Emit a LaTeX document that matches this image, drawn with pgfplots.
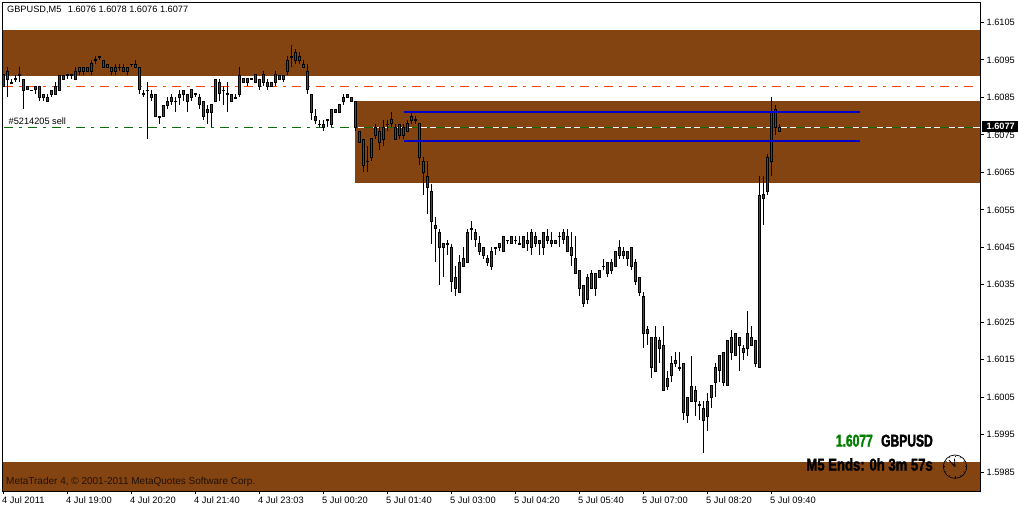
\documentclass[border=0pt]{standalone}
\usepackage{fontspec}
\setmainfont{Liberation Sans}
\newfontfamily\impact[FakeStretch=0.77,FakeBold=1.8]{Liberation Sans Bold}
\newfontfamily\impactn[FakeStretch=0.71,FakeBold=1.8]{Liberation Sans Bold}
\usepackage{pgfplots}
\usepackage{pgfplotstable}
\pgfplotsset{compat=1.18}
\definecolor{band}{HTML}{844412}
\definecolor{upc}{HTML}{0A6E14}
\definecolor{dnc}{HTML}{C41414}
\definecolor{orangeline}{HTML}{FF4500}
\definecolor{gline}{HTML}{0A6E0A}
\definecolor{bline}{HTML}{0000CD}
\pgfplotstableread{
i o h l c
0 1.6088 1.6091 1.6088 1.6091
2 1.6089 1.6090 1.6089 1.6089
3 1.6090 1.6091 1.6089 1.6090
4 1.6091 1.6093 1.6089 1.6091
7 1.6087 1.6087 1.6087 1.6087
8 1.6087 1.6088 1.6086 1.6088
11 1.6084 1.6086 1.6084 1.6085
12 1.6086 1.6087 1.6085 1.6087
13 1.6086 1.6089 1.6086 1.6088
14 1.6087 1.6091 1.6087 1.6091
15 1.6090 1.6091 1.6090 1.6091
16 1.6091 1.6091 1.6090 1.6091
17 1.6091 1.6091 1.6090 1.6091
18 1.6090 1.6093 1.6090 1.6092
21 1.6092 1.6093 1.6092 1.6093
22 1.6092 1.6095 1.6091 1.6094
23 1.6095 1.6096 1.6094 1.6095
24 1.6096 1.6096 1.6095 1.6096
29 1.6093 1.6094 1.6092 1.6093
30 1.6092 1.6094 1.6092 1.6093
31 1.6092 1.6093 1.6091 1.6093
32 1.6094 1.6094 1.6093 1.6094
33 1.6093 1.6095 1.6093 1.6094
35 1.6086 1.6087 1.6085 1.6086
36 1.6087 1.6089 1.6074 1.6087
39 1.6080 1.6080 1.6078 1.6080
40 1.6080 1.6083 1.6080 1.6083
42 1.6084 1.6086 1.6083 1.6085
43 1.6084 1.6085 1.6081 1.6084
44 1.6085 1.6087 1.6083 1.6086
46 1.6084 1.6086 1.6081 1.6086
48 1.6086 1.6086 1.6085 1.6086
53 1.6084 1.6090 1.6084 1.6090
55 1.6087 1.6088 1.6083 1.6087
56 1.6086 1.6089 1.6081 1.6086
57 1.6084 1.6086 1.6084 1.6086
58 1.6085 1.6086 1.6085 1.6085
59 1.6086 1.6093 1.6085 1.6091
62 1.6090 1.6090 1.6090 1.6090
64 1.6088 1.6090 1.6087 1.6090
65 1.6089 1.6092 1.6088 1.6091
68 1.6089 1.6092 1.6088 1.6091
69 1.6090 1.6091 1.6090 1.6091
70 1.6090 1.6091 1.6089 1.6091
71 1.6092 1.6096 1.6091 1.6095
72 1.6096 1.6099 1.6093 1.6096
79 1.6078 1.6079 1.6077 1.6078
80 1.6077 1.6079 1.6076 1.6078
81 1.6079 1.6079 1.6077 1.6079
82 1.6078 1.6082 1.6077 1.6082
83 1.6081 1.6082 1.6081 1.6082
84 1.6081 1.6083 1.6081 1.6083
85 1.6084 1.6086 1.6083 1.6085
87 1.6084 1.6085 1.6084 1.6085
91 1.6068 1.6072 1.6065 1.6068
92 1.6069 1.6074 1.6068 1.6074
93 1.6075 1.6078 1.6074 1.6077
95 1.6074 1.6079 1.6072 1.6077
96 1.6078 1.6079 1.6076 1.6078
99 1.6075 1.6078 1.6074 1.6078
101 1.6076 1.6079 1.6076 1.6078
102 1.6079 1.6081 1.6078 1.6080
103 1.6079 1.6080 1.6078 1.6079
111 1.6046 1.6047 1.6043 1.6046
114 1.6033 1.6043 1.6033 1.6041
116 1.6041 1.6050 1.6041 1.6049
117 1.6050 1.6052 1.6047 1.6050
122 1.6040 1.6045 1.6039 1.6044
123 1.6045 1.6045 1.6043 1.6045
125 1.6044 1.6048 1.6044 1.6048
126 1.6047 1.6047 1.6046 1.6047
127 1.6046 1.6048 1.6046 1.6048
128 1.6047 1.6048 1.6046 1.6047
129 1.6046 1.6048 1.6046 1.6046
130 1.6045 1.6048 1.6045 1.6048
132 1.6045 1.6050 1.6043 1.6049
135 1.6045 1.6049 1.6043 1.6049
137 1.6046 1.6049 1.6045 1.6047
138 1.6046 1.6047 1.6046 1.6047
139 1.6048 1.6049 1.6045 1.6048
140 1.6047 1.6050 1.6046 1.6049
146 1.6031 1.6038 1.6030 1.6037
148 1.6034 1.6038 1.6032 1.6038
149 1.6037 1.6039 1.6037 1.6039
150 1.6040 1.6042 1.6039 1.6040
152 1.6039 1.6042 1.6038 1.6041
153 1.6040 1.6044 1.6040 1.6044
154 1.6043 1.6047 1.6042 1.6045
156 1.6042 1.6044 1.6040 1.6044
163 1.6012 1.6024 1.6012 1.6021
166 1.6008 1.6012 1.6007 1.6010
167 1.6011 1.6016 1.6009 1.6014
169 1.6013 1.6017 1.6012 1.6013
171 1.6000 1.6005 1.5998 1.6005
172 1.6004 1.6016 1.6004 1.6008
174 1.6003 1.6004 1.5999 1.6003
176 1.6000 1.6006 1.5996 1.6004
177 1.6005 1.6008 1.6002 1.6008
178 1.6009 1.6014 1.6005 1.6013
179 1.6012 1.6016 1.6009 1.6016
181 1.6008 1.6020 1.6008 1.6020
183 1.6016 1.6022 1.6016 1.6022
186 1.6018 1.6028 1.6016 1.6022
189 1.6013 1.6064 1.6013 1.6059
190 1.6058 1.6064 1.6051 1.6059
191 1.6060 1.6070 1.6059 1.6069
192 1.6068 1.6085 1.6064 1.6081
194 1.6076 1.6078 1.6076 1.6077
}\upT
\pgfplotstableread{
i o h l c
1 1.6092 1.6093 1.6085 1.6090
5 1.6090 1.6090 1.6082 1.6087
6 1.6088 1.6088 1.6087 1.6087
9 1.6088 1.6088 1.6084 1.6085
10 1.6086 1.6086 1.6084 1.6085
19 1.6093 1.6093 1.6091 1.6092
20 1.6093 1.6093 1.6091 1.6092
25 1.6095 1.6095 1.6093 1.6093
26 1.6094 1.6094 1.6093 1.6093
27 1.6093 1.6093 1.6091 1.6092
28 1.6093 1.6094 1.6091 1.6092
34 1.6093 1.6093 1.6086 1.6087
37 1.6086 1.6087 1.6084 1.6085
38 1.6086 1.6086 1.6080 1.6080
41 1.6084 1.6085 1.6082 1.6083
45 1.6087 1.6087 1.6084 1.6086
47 1.6087 1.6087 1.6084 1.6085
49 1.6085 1.6086 1.6082 1.6083
50 1.6084 1.6084 1.6079 1.6080
51 1.6082 1.6083 1.6078 1.6081
52 1.6083 1.6083 1.6077 1.6081
54 1.6089 1.6090 1.6084 1.6086
60 1.6090 1.6090 1.6089 1.6089
61 1.6090 1.6090 1.6088 1.6089
63 1.6091 1.6091 1.6089 1.6089
66 1.6089 1.6090 1.6087 1.6088
67 1.6089 1.6089 1.6088 1.6088
73 1.6097 1.6098 1.6094 1.6095
74 1.6096 1.6097 1.6094 1.6095
75 1.6094 1.6095 1.6093 1.6093
76 1.6092 1.6094 1.6086 1.6087
77 1.6086 1.6086 1.6079 1.6081
78 1.6080 1.6082 1.6078 1.6079
86 1.6086 1.6086 1.6085 1.6085
88 1.6084 1.6084 1.6076 1.6077
89 1.6076 1.6076 1.6073 1.6073
90 1.6074 1.6074 1.6065 1.6067
94 1.6076 1.6077 1.6071 1.6073
97 1.6079 1.6081 1.6077 1.6078
98 1.6077 1.6078 1.6074 1.6074
100 1.6077 1.6078 1.6074 1.6075
104 1.6078 1.6078 1.6067 1.6069
105 1.6068 1.6069 1.6059 1.6065
106 1.6064 1.6068 1.6054 1.6061
107 1.6060 1.6062 1.6046 1.6052
108 1.6051 1.6053 1.6041 1.6050
109 1.6049 1.6050 1.6035 1.6045
110 1.6046 1.6046 1.6037 1.6045
112 1.6045 1.6046 1.6033 1.6036
113 1.6037 1.6040 1.6032 1.6034
115 1.6042 1.6045 1.6040 1.6040
118 1.6049 1.6050 1.6045 1.6047
119 1.6046 1.6048 1.6043 1.6044
120 1.6045 1.6045 1.6042 1.6043
121 1.6042 1.6043 1.6040 1.6041
124 1.6046 1.6046 1.6044 1.6045
131 1.6047 1.6049 1.6044 1.6046
133 1.6048 1.6049 1.6045 1.6046
134 1.6047 1.6047 1.6043 1.6046
136 1.6048 1.6050 1.6046 1.6047
141 1.6048 1.6050 1.6044 1.6044
142 1.6045 1.6049 1.6040 1.6043
143 1.6042 1.6048 1.6038 1.6038
144 1.6039 1.6039 1.6032 1.6034
145 1.6035 1.6035 1.6029 1.6030
147 1.6038 1.6039 1.6034 1.6034
151 1.6041 1.6041 1.6037 1.6038
155 1.6044 1.6045 1.6042 1.6043
157 1.6045 1.6045 1.6039 1.6040
158 1.6041 1.6042 1.6035 1.6036
159 1.6037 1.6037 1.6032 1.6033
160 1.6032 1.6033 1.6018 1.6022
161 1.6023 1.6024 1.6019 1.6022
162 1.6021 1.6021 1.6010 1.6013
164 1.6020 1.6021 1.6014 1.6018
165 1.6019 1.6024 1.6007 1.6007
168 1.6015 1.6017 1.6013 1.6014
170 1.6014 1.6014 1.5999 1.6001
173 1.6007 1.6008 1.6000 1.6004
175 1.6002 1.6004 1.5990 1.5999
180 1.6017 1.6017 1.6008 1.6009
182 1.6021 1.6023 1.6015 1.6017
184 1.6021 1.6021 1.6012 1.6019
185 1.6018 1.6019 1.6015 1.6017
187 1.6021 1.6024 1.6019 1.6019
188 1.6020 1.6020 1.6013 1.6014
193 1.6082 1.6083 1.6075 1.6077
}\dnT
\newcommand{\candles}[2]{%
\addplot[draw=none,mark=none,forget plot,error bars/.cd,y dir=both,y explicit,error mark=none,error bar style={draw=black,solid,line width=1pt}]
  table[x=i,y=c,y error plus expr={\thisrow{h}-\thisrow{c}},y error minus expr={\thisrow{c}-\thisrow{l}}]{#1};
\addplot[draw=none,mark=none,forget plot,error bars/.cd,y dir=both,y explicit,error mark=none,error bar style={draw=black,solid,line width=3pt}]
  table[x=i,y expr={(\thisrow{o}+\thisrow{c})/2},y error expr={abs(\thisrow{o}-\thisrow{c})/2+0.0000134}]{#1};
\addplot[draw=none,mark=none,forget plot,error bars/.cd,y dir=both,y explicit,error mark=none,error bar style={draw=#2,solid,line width=1pt}]
  table[x=i,y expr={(\thisrow{o}+\thisrow{c})/2},y error expr={max(abs(\thisrow{o}-\thisrow{c})/2-0.0000134,0)}]{#1};
}
\begin{document}
\begin{tikzpicture}[x=1pt,y=1pt]
% picture points: px x -> x-2.5, px y -> 491.5-y
\path[use as bounding box,fill=white] (-2.5,-16.5) rectangle (1015.5,491.5);
\begin{axis}[
  scale only axis,width=978pt,height=489pt,
  xmin=-0.25,xmax=244.25,ymin=1.597983,ymax=1.611034,
  axis on top,axis line style={line width=1pt,black},
  tick style={black,line width=1pt},
  tick align=outside,major tick length=3pt,
  xtick pos=bottom,ytick pos=right,yticklabel pos=right,
  xtick={0,16,32,48,64,80,96,112,128,144,160,176,192},
  xticklabels={4 Jul 2011,4 Jul 19:00,4 Jul 20:20,4 Jul 21:40,4 Jul 23:03,5 Jul 00:20,5 Jul 01:40,5 Jul 03:00,5 Jul 04:20,5 Jul 05:40,5 Jul 07:00,5 Jul 08:20,5 Jul 09:40},
  ytick={1.5985,1.5995,1.6005,1.6015,1.6025,1.6035,1.6045,1.6055,1.6065,1.6075,1.6085,1.6095,1.6105},
  yticklabels={1.5985,1.5995,1.6005,1.6015,1.6025,1.6035,1.6045,1.6055,1.6065,1.6075,1.6085,1.6095,1.6105},
  scaled y ticks=false,
  xticklabel style={anchor=north west,inner sep=0pt,xshift=-1.5pt,yshift=-2pt,font=\fontsize{9.3}{11}\selectfont},
  yticklabel style={anchor=west,inner sep=0pt,xshift=3pt,font=\fontsize{9.2}{11}\selectfont},
]
% supply / demand zones
\addplot[fill=band,draw=none,forget plot] coordinates {(-1,1.60907)(250,1.60907)(250,1.61030)(-1,1.61030)} --cycle;
\addplot[fill=band,draw=none,forget plot] coordinates {(87.875,1.60622)(250,1.60622)(250,1.60840)(87.875,1.60840)} --cycle;
\addplot[fill=band,draw=none,forget plot] coordinates {(-1,1.5970)(250,1.5970)(250,1.59877)(-1,1.59877)} --cycle;
% horizontal price lines
\addplot[draw=orangeline,line width=1pt,dash pattern=on 9pt off 6pt on 3pt off 6pt,forget plot] coordinates {(0.125,1.60879)(242.4,1.60879)};
\addplot[draw=white,line width=1pt,forget plot] coordinates {(-0.25,1.6077)(244.25,1.6077)};
\addplot[draw=gline,line width=1pt,dash pattern=on 9pt off 6pt on 3pt off 6pt,forget plot] coordinates {(0.125,1.6077)(242.4,1.6077)};
\candles{\upT}{upc}
\candles{\dnT}{dnc}
% trend lines
\addplot[draw=bline,line width=2pt,forget plot] coordinates {(100,1.60811)(214.2,1.60811)};
\addplot[draw=bline,line width=2pt,forget plot] coordinates {(100,1.60734)(214.2,1.60734)};
\end{axis}
% texts
\node[anchor=west,inner sep=0pt,font=\fontsize{9.2}{11}\selectfont] at (4.5,481.5) {GBPUSD,M5\hspace{4pt} 1.6076 1.6078 1.6076 1.6077};
\node[anchor=west,inner sep=0pt,font=\fontsize{9.2}{11}\selectfont] at (6,370.5) {\#5214205 sell};
\node[anchor=west,inner sep=0pt,text=band!25!black,font=\fontsize{10}{11}\selectfont] at (3.5,9.5) {MetaTrader 4, © 2001-2011 MetaQuotes Software Corp.};
\node[anchor=east,inner sep=0pt,text=green!50!black,font=\impactn\fontsize{17}{18}\selectfont] at (870.5,50.8) {1.6077};
\node[anchor=east,inner sep=0pt,font=\impactn\fontsize{17}{18}\selectfont] at (930.5,50.8) {GBPUSD};
\node[anchor=east,inner sep=0pt,font=\impact\fontsize{17}{18}\selectfont] at (930.5,27) {M5 Ends: 0h 3m 57s};
% current price flag
\fill[black] (979.5,359.8) rectangle (1015.5,370.8);
\node[anchor=west,inner sep=0pt,text=white,font=\bfseries\fontsize{9.2}{11}\selectfont] at (984,365.3) {1.6077};
% clock
\begin{scope}[shift={(952.5,24.8)}]
\draw[line width=0.7pt] (0,0) circle (11.7);
\foreach \a in {0,30,...,330} {\draw[line width=0.5pt] (\a:9.8) -- (\a:11);}
\draw[line width=0.8pt] (0,0) -- (-6,6.5);
\draw[line width=0.8pt] (0,0) -- (-0.5,8);
\end{scope}
\end{tikzpicture}
\end{document}
